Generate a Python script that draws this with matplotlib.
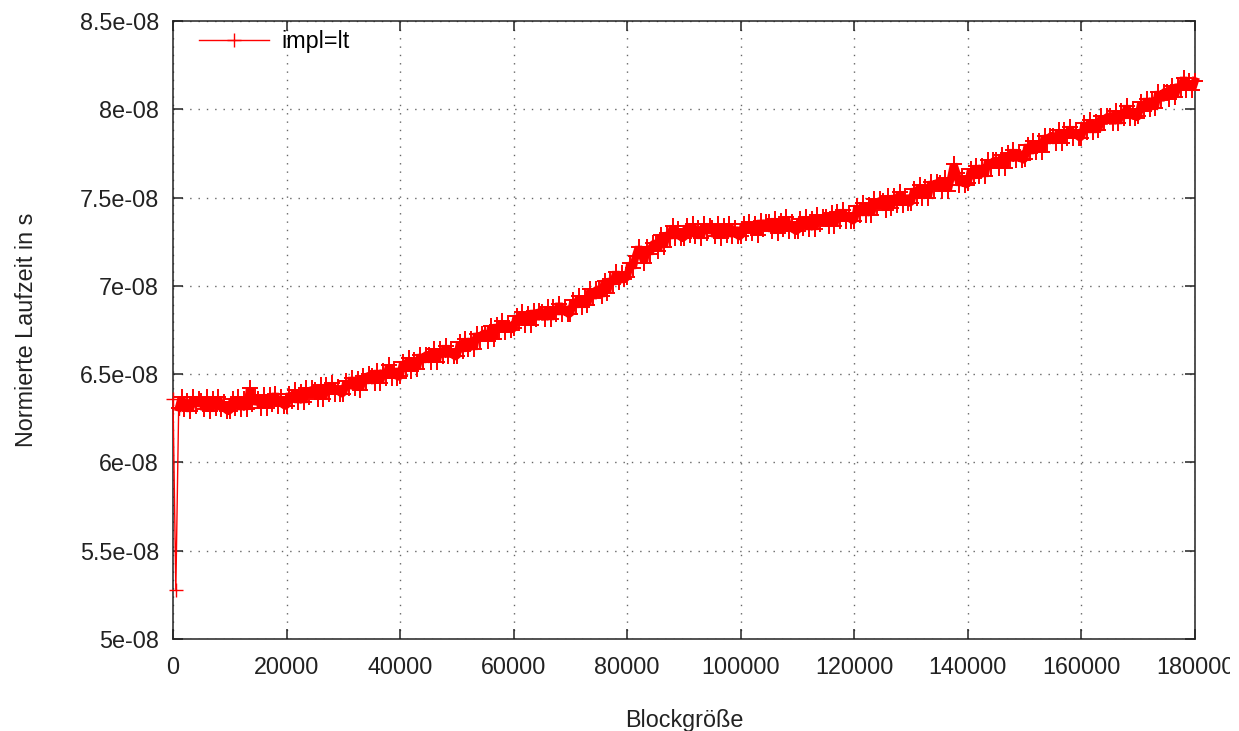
import numpy as np
import matplotlib.pyplot as plt
from matplotlib.transforms import Bbox

plt.rcParams['font.family'] = ['Liberation Sans', 'DejaVu Sans']

# Blockgrößen (Schrittweite 500) und normierte Laufzeit in 1e-8 s
block = np.arange(0, 180001, 500)
laufzeit = [
    6.36, 5.28, 6.31, 6.37, 6.30, 6.35, 6.29, 6.37, 6.32, 6.36,
    6.35, 6.30, 6.37, 6.29, 6.36, 6.31, 6.37, 6.30, 6.34, 6.29,
    6.29, 6.36, 6.31, 6.37, 6.30, 6.36, 6.30, 6.42, 6.33, 6.37,
    6.36, 6.31, 6.38, 6.31, 6.38, 6.33, 6.39, 6.32, 6.37, 6.32,
    6.32, 6.39, 6.35, 6.41, 6.34, 6.40, 6.34, 6.42, 6.37, 6.42,
    6.41, 6.36, 6.44, 6.36, 6.44, 6.39, 6.45, 6.39, 6.43, 6.39,
    6.39, 6.46, 6.42, 6.48, 6.42, 6.47, 6.41, 6.49, 6.45, 6.50,
    6.49, 6.45, 6.52, 6.45, 6.52, 6.48, 6.55, 6.48, 6.53, 6.48,
    6.49, 6.57, 6.52, 6.59, 6.52, 6.58, 6.53, 6.61, 6.57, 6.61,
    6.61, 6.57, 6.64, 6.57, 6.64, 6.60, 6.66, 6.60, 6.64, 6.60,
    6.60, 6.68, 6.63, 6.70, 6.64, 6.70, 6.64, 6.73, 6.69, 6.73,
    6.73, 6.69, 6.77, 6.70, 6.78, 6.74, 6.80, 6.74, 6.79, 6.75,
    6.76, 6.83, 6.79, 6.85, 6.78, 6.84, 6.78, 6.86, 6.81, 6.86,
    6.85, 6.81, 6.88, 6.81, 6.88, 6.84, 6.90, 6.84, 6.88, 6.84,
    6.84, 6.92, 6.88, 6.94, 6.88, 6.94, 6.89, 6.98, 6.93, 6.98,
    6.98, 6.94, 7.03, 6.96, 7.04, 7.01, 7.08, 7.02, 7.07, 7.04,
    7.05, 7.13, 7.10, 7.17, 7.22, 7.18, 7.13, 7.22, 7.18, 7.24,
    7.24, 7.20, 7.29, 7.22, 7.30, 7.27, 7.34, 7.27, 7.32, 7.27,
    7.27, 7.34, 7.29, 7.35, 7.28, 7.33, 7.27, 7.35, 7.30, 7.34,
    7.33, 7.28, 7.35, 7.27, 7.34, 7.29, 7.35, 7.28, 7.33, 7.28,
    7.28, 7.35, 7.30, 7.36, 7.30, 7.35, 7.29, 7.37, 7.32, 7.36,
    7.36, 7.31, 7.38, 7.30, 7.37, 7.32, 7.39, 7.31, 7.36, 7.31,
    7.31, 7.38, 7.33, 7.39, 7.32, 7.38, 7.32, 7.40, 7.35, 7.39,
    7.39, 7.34, 7.41, 7.34, 7.42, 7.37, 7.43, 7.37, 7.41, 7.37,
    7.37, 7.45, 7.40, 7.47, 7.40, 7.46, 7.40, 7.49, 7.44, 7.49,
    7.48, 7.43, 7.51, 7.44, 7.51, 7.46, 7.53, 7.46, 7.51, 7.47,
    7.47, 7.55, 7.50, 7.57, 7.50, 7.56, 7.50, 7.59, 7.55, 7.59,
    7.58, 7.54, 7.61, 7.54, 7.61, 7.69, 7.64, 7.57, 7.62, 7.57,
    7.58, 7.66, 7.61, 7.68, 7.62, 7.68, 7.62, 7.71, 7.67, 7.71,
    7.71, 7.67, 7.74, 7.67, 7.75, 7.71, 7.77, 7.71, 7.76, 7.71,
    7.72, 7.80, 7.75, 7.82, 7.76, 7.82, 7.76, 7.85, 7.81, 7.85,
    7.85, 7.81, 7.88, 7.81, 7.88, 7.84, 7.90, 7.84, 7.88, 7.84,
    7.84, 7.92, 7.87, 7.94, 7.87, 7.93, 7.88, 7.96, 7.92, 7.96,
    7.96, 7.92, 7.99, 7.92, 7.99, 7.95, 8.02, 7.95, 8.00, 7.95,
    7.96, 8.04, 7.99, 8.06, 8.00, 8.06, 8.01, 8.10, 8.05, 8.10,
    8.10, 8.06, 8.13, 8.07, 8.14, 8.11, 8.18, 8.11, 8.16, 8.11,
    8.16,
]

x_ticks = [0, 20000, 40000, 60000, 80000, 100000, 120000, 140000, 160000, 180000]
y_ticks = [5.0e-8, 5.5e-8, 6.0e-8, 6.5e-8, 7.0e-8, 7.5e-8, 8.0e-8, 8.5e-8]
y_tick_labels = ['5e-08', '5.5e-08', '6e-08', '6.5e-08', '7e-08', '7.5e-08', '8e-08', '8.5e-08']

fs = 16.8
fig = plt.figure(figsize=(12.39, 7.31), dpi=100)
ax = fig.add_axes([173 / 1239, 1 - 639 / 731, (1195 - 173) / 1239, (639 - 21) / 731])

y = np.array(laufzeit) * 1e-8
# erster Einbruch als dünne Linie, Rest als dichter Messstreifen
ax.plot(block[:3], y[:3], color='#ff0000', lw=1.0, marker='+', markersize=9.4,
        markeredgewidth=1.0, clip_on=False, zorder=3)
ax.plot(block[2:], y[2:], color='#ff0000', lw=5.5, marker='+', markersize=12,
        markeredgewidth=1.4, solid_joinstyle='bevel', clip_on=False, zorder=3)
ax.plot([], [], color='#ff0000', lw=1.0, marker='+', markersize=9.4,
        markeredgewidth=1.0, label='impl=lt')

ax.set_xlim(0, 180000)
ax.set_ylim(5e-8, 8.5e-8)
ax.set_xticks(x_ticks)
ax.set_xticklabels([str(t) for t in x_ticks])
ax.set_yticks(y_ticks)
ax.set_yticklabels(y_tick_labels)

ax.grid(True, color='#666666', linestyle=(0, (1, 5)), lw=1.0)
ax.tick_params(direction='in', length=7.2, width=1.1, top=True, right=True,
               labelsize=fs, colors='#222222')
ax.tick_params(axis='x', pad=12)
ax.tick_params(axis='y', pad=10)
for s in ax.spines.values():
    s.set_linewidth(1.1)
    s.set_color('#222222')

# letzte Beschriftung wird am rechten Rand abgeschnitten
last = ax.get_xticklabels()[-1]
last.set_clip_box(Bbox([[0, 0], [1230, 731]]))
last.set_clip_on(True)

ax.set_xlabel('Blockgröße', fontsize=fs, color='#222222', labelpad=22)
ax.set_ylabel('Normierte Laufzeit in s', fontsize=fs, color='#222222', labelpad=30)

ax.legend(loc='upper left', bbox_to_anchor=(26 / 1022, 0.985), frameon=False,
          fontsize=fs, handlelength=3.0, handletextpad=0.55, numpoints=1,
          borderpad=0, borderaxespad=0)

fig.savefig('out.png', dpi=100)
